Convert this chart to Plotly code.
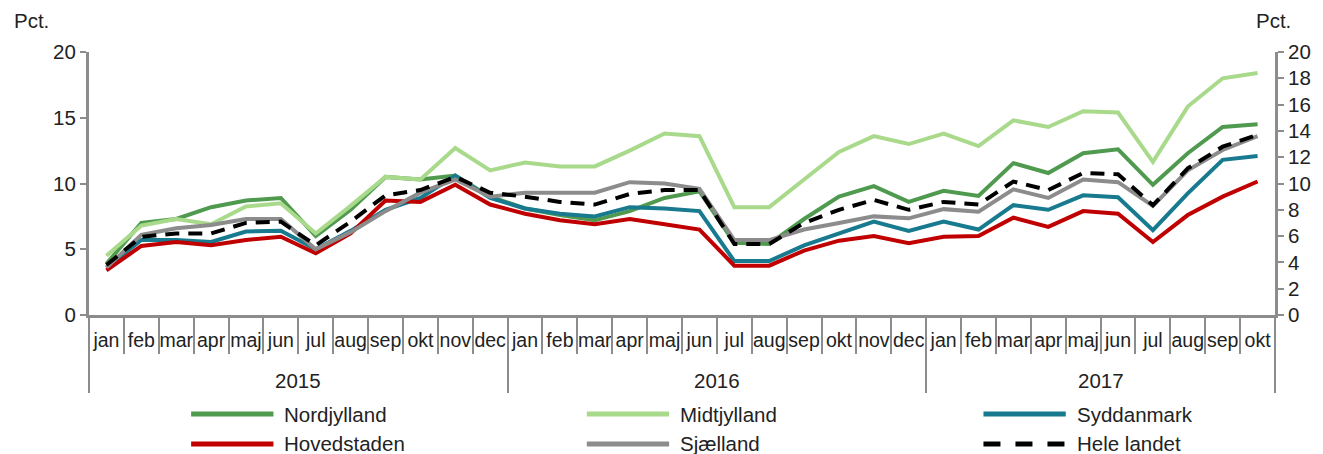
import plotly.graph_objects as go

# Monthly periods: Jan 2015 - Oct 2017
month_labels = (
    ["jan", "feb", "mar", "apr", "maj", "jun", "jul", "aug", "sep", "okt", "nov", "dec"]
    + ["jan", "feb", "mar", "apr", "maj", "jun", "jul", "aug", "sep", "okt", "nov", "dec"]
    + ["jan", "feb", "mar", "apr", "maj", "jun", "jul", "aug", "sep", "okt"]
)
year_labels = ["2015", "2016", "2017"]
months_per_year = [12, 12, 10]

# Share (pct.) per region
nordjylland = [3.9, 7.0, 7.3, 8.2, 8.7, 8.9, 6.0, 8.0, 10.5, 10.3, 10.6, 9.0,
               8.1, 7.6, 7.2, 7.9, 8.9, 9.4, 5.5, 5.4, 7.3, 9.0, 9.8, 8.6,
               9.45, 9.05, 11.55, 10.8, 12.3, 12.6, 9.9, 12.3, 14.3, 14.5]
midtjylland = [4.5, 6.8, 7.3, 6.9, 8.25, 8.5, 6.2, 8.3, 10.5, 10.3, 12.7, 11.0,
               11.6, 11.3, 11.3, 12.5, 13.8, 13.6, 8.2, 8.2, 10.3, 12.4, 13.6, 13.0,
               13.8, 12.85, 14.8, 14.3, 15.5, 15.4, 11.65, 15.85, 18.0, 18.4]
syddanmark = [3.6, 5.7, 5.7, 5.55, 6.35, 6.4, 5.0, 6.4, 8.0, 8.9, 10.6, 8.9,
              8.1, 7.7, 7.5, 8.2, 8.1, 7.9, 4.1, 4.1, 5.3, 6.2, 7.1, 6.4,
              7.1, 6.5, 8.35, 8.0, 9.1, 8.95, 6.45, 9.25, 11.8, 12.1]
hovedstaden = [3.4, 5.25, 5.55, 5.3, 5.7, 5.95, 4.7, 6.2, 8.7, 8.6, 9.9, 8.4,
               7.7, 7.2, 6.9, 7.3, 6.9, 6.5, 3.75, 3.75, 4.9, 5.65, 6.0, 5.45,
               5.95, 6.0, 7.4, 6.7, 7.9, 7.7, 5.55, 7.6, 9.0, 10.15]
sjaelland = [3.6, 6.1, 6.6, 6.85, 7.3, 7.3, 5.0, 6.3, 7.9, 9.3, 10.3, 9.0,
             9.3, 9.3, 9.3, 10.1, 10.0, 9.6, 5.7, 5.7, 6.5, 7.0, 7.5, 7.35,
             8.05, 7.85, 9.55, 8.9, 10.3, 10.1, 8.3, 11.0, 12.55, 13.6]
hele_landet = [3.8, 5.95, 6.2, 6.2, 7.0, 7.1, 5.3, 7.1, 9.1, 9.5, 10.5, 9.3,
               9.0, 8.6, 8.4, 9.2, 9.5, 9.5, 5.4, 5.4, 7.0, 8.0, 8.75, 8.0,
               8.6, 8.4, 10.15, 9.5, 10.8, 10.7, 8.35, 11.15, 12.8, 13.7]

series = [
    ("Nordjylland", nordjylland, "#4f9a4f", False),
    ("Midtjylland", midtjylland, "#a9da8c", False),
    ("Syddanmark", syddanmark, "#177a8e", False),
    ("Hovedstaden", hovedstaden, "#c00000", False),
    ("Sjælland", sjaelland, "#8c8c8c", False),
    ("Hele landet", hele_landet, "#000000", True),
]

FONT = "Liberation Sans, Arial, sans-serif"
FS = 20.5
FS_MONTH = 19.5
AXIS_GREY = "#8c8c8c"
TEXT = "#222222"

n = len(month_labels)
x = list(range(n))

fig = go.Figure()
for name, vals, color, dashed in series:
    fig.add_trace(go.Scatter(
        x=x, y=vals, mode="lines", name=name,
        line=dict(color=color, width=4, dash="14px,9px" if dashed else "solid"),
        showlegend=False, xaxis="x", yaxis="y",
    ))

# Plot area in pixels (used to place the custom legend)
W, H = 1323, 454
L, R, T, B = 89, 38, 52, 139
pw, ph = W - L - R, H - T - B

def px_to_paper(px, py):
    return (px - L) / pw, (H - B - py) / ph

# Custom legend: 3 columns x 2 rows
shapes = []
annotations = []
col_x = [192, 591, 991]
row_y = [414, 444]
sample_len = 83
for i, (name, vals, color, dashed) in enumerate(series):
    cx = col_x[i % 3]
    cy = row_y[i // 3]
    x0, y0 = px_to_paper(cx, cy)
    x1, _ = px_to_paper(cx + sample_len, cy)
    shapes.append(dict(type="line", xref="paper", yref="paper",
                       x0=x0, x1=x1, y0=y0, y1=y0,
                       line=dict(color=color, width=5,
                                 dash="17px,15px" if dashed else "solid")))
    tx, _ = px_to_paper(cx + sample_len + 9, cy)
    annotations.append(dict(text=name, xref="paper", yref="paper", x=tx, y=y0,
                            xanchor="left", yanchor="middle", showarrow=False,
                            font=dict(family=FONT, size=FS, color=TEXT)))

# Year group labels and boundaries
boundaries = [-0.5]
start = 0
for yl, cnt in zip(year_labels, months_per_year):
    center = start + (cnt - 1) / 2
    annotations.append(dict(text=yl, xref="x", yref="paper", x=center,
                            y=px_to_paper(0, 380)[1], xanchor="center", yanchor="middle",
                            showarrow=False, font=dict(family=FONT, size=FS, color=TEXT)))
    start += cnt
    boundaries.append(start - 0.5)

# Axis unit labels
annotations.append(dict(text="Pct.", xref="paper", yref="paper",
                        x=px_to_paper(11, 0)[0], y=px_to_paper(0, 20)[1],
                        xanchor="left", yanchor="middle", showarrow=False,
                        font=dict(family=FONT, size=FS, color=TEXT)))
annotations.append(dict(text="Pct.", xref="paper", yref="paper",
                        x=px_to_paper(1264, 0)[0], y=px_to_paper(0, 21)[1],
                        xanchor="left", yanchor="middle", showarrow=False,
                        font=dict(family=FONT, size=FS, color=TEXT)))

xrange = [-0.5, n - 0.5]
fig.update_layout(
    width=W, height=H,
    margin=dict(l=L, r=R, t=T, b=B),
    paper_bgcolor="white", plot_bgcolor="white",
    font=dict(family=FONT, size=FS, color=TEXT),
    showlegend=False,
    xaxis=dict(range=xrange, tickmode="array", tickvals=x, ticktext=month_labels,
               ticks="", showline=True, linecolor=AXIS_GREY, linewidth=3,
               showgrid=False, zeroline=False, tickfont=dict(size=FS_MONTH),
               tickangle=0, ticklabelstandoff=6),
    # month separators
    xaxis2=dict(range=xrange, overlaying="x", anchor="y", side="bottom",
                tickmode="array", tickvals=[i - 0.5 for i in range(n + 1)],
                ticks="outside", ticklen=38, tickwidth=2, tickcolor=AXIS_GREY,
                showticklabels=False, showline=False, showgrid=False, zeroline=False),
    # year separators
    xaxis3=dict(range=xrange, overlaying="x", anchor="y", side="bottom",
                tickmode="array", tickvals=boundaries,
                ticks="outside", ticklen=77, tickwidth=2, tickcolor=AXIS_GREY,
                showticklabels=False, showline=False, showgrid=False, zeroline=False),
    yaxis=dict(range=[0, 20], tickmode="linear", tick0=0, dtick=5,
               ticks="outside", ticklen=6, tickwidth=2, tickcolor=AXIS_GREY,
               showline=True, linecolor=AXIS_GREY, linewidth=3,
               showgrid=False, zeroline=False, tickfont=dict(size=FS)),
    yaxis2=dict(range=[0, 20], tickmode="linear", tick0=0, dtick=2,
                overlaying="y", side="right", anchor="x",
                ticks="outside", ticklen=6, tickwidth=2, tickcolor=AXIS_GREY,
                showline=True, linecolor=AXIS_GREY, linewidth=3,
                showgrid=False, zeroline=False, tickfont=dict(size=FS)),
    shapes=shapes,
    annotations=annotations,
)

# empty traces so the overlay axes are drawn
fig.add_trace(go.Scatter(x=[None], y=[None], xaxis="x2", yaxis="y", showlegend=False, hoverinfo="skip"))
fig.add_trace(go.Scatter(x=[None], y=[None], xaxis="x3", yaxis="y", showlegend=False, hoverinfo="skip"))
fig.add_trace(go.Scatter(x=[None], y=[None], xaxis="x", yaxis="y2", showlegend=False, hoverinfo="skip"))

fig.write_html("out.html")
